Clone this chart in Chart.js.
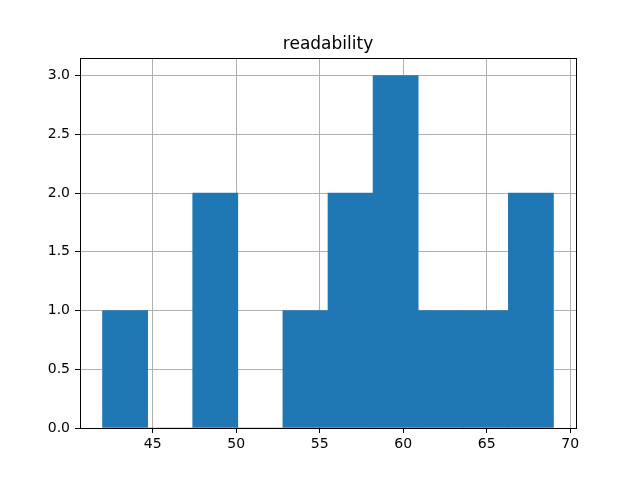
<!DOCTYPE html>
<html>
<head>
<meta charset="utf-8">
<script src="https://cdn.jsdelivr.net/npm/chart.js@4/dist/chart.umd.min.js"></script>
<style>
  body { margin: 0; background: #fff; }
</style>
</head>
<body>
<canvas id="histChart" width="640" height="480"></canvas>
<script>
const binEdges = [42.0, 44.7, 47.4, 50.1, 52.8, 55.5, 58.2, 60.9, 63.6, 66.3, 69.0];
const counts = [1, 0, 2, 0, 1, 2, 3, 1, 1, 2];
const yTicks = [0, 0.5, 1.0, 1.5, 2.0, 2.5, 3.0];
const xTicks = [45, 50, 55, 60, 65, 70];

const points = [];
counts.forEach((c, i) => {
    points.push({ x: (binEdges[i] + binEdges[i + 1]) / 2, y: c });
});

const frame = {
    id: 'frame',
    afterDraw(chart) {
        const a = chart.chartArea;
        const ctx = chart.ctx;
        ctx.save();
        ctx.strokeStyle = '#000';
        ctx.lineWidth = 1;
        ctx.strokeRect(Math.round(a.left) + 0.5, Math.round(a.top) + 0.5,
            Math.round(a.right - a.left), Math.round(a.bottom - a.top));
        ctx.restore();
    }
};

const font = { family: 'DejaVu Sans', size: 14 };

new Chart(document.getElementById('histChart'), {
    type: 'bar',
    data: {
        datasets: [{
            label: 'readability',
            data: points,
            backgroundColor: '#1f77b4',
            borderWidth: 0,
            barPercentage: 1,
            categoryPercentage: 1
        }]
    },
    options: {
        responsive: false,
        animation: false,
        layout: { padding: { left: 0, right: 64, top: 0, bottom: 0 } },
        plugins: {
            legend: { display: false },
            tooltip: { enabled: false },
            title: {
                display: true,
                text: 'readability',
                fullSize: false,
                color: '#000',
                font: { family: 'DejaVu Sans', size: 17, weight: 'normal', lineHeight: 1.2 },
                padding: { top: 34, bottom: 3.6 }
            }
        },
        scales: {
            x: {
                type: 'linear',
                z: 1,
                offset: false,
                min: 40.65,
                max: 70.35,
                afterFit: s => { s.height = 52; },
                afterBuildTicks: s => { s.ticks = xTicks.map(v => ({ value: v })); },
                grid: { offset: false, color: '#b0b0b0', lineWidth: 1, tickColor: '#000', tickLength: 5 },
                border: { color: '#000', width: 1 },
                ticks: { color: '#000', font: font, padding: 3, maxRotation: 0, autoSkip: false }
            },
            y: {
                z: 1,
                min: 0,
                max: 3.15,
                afterFit: s => { s.width = 80; },
                afterBuildTicks: s => { s.ticks = yTicks.map(v => ({ value: v })); },
                grid: { color: '#b0b0b0', lineWidth: 1, tickColor: '#000', tickLength: 5 },
                border: { color: '#000', width: 1 },
                ticks: { color: '#000', font: font, padding: 5, callback: v => Number(v).toFixed(1) }
            }
        }
    },
    plugins: [frame]
});
</script>
</body>
</html>
